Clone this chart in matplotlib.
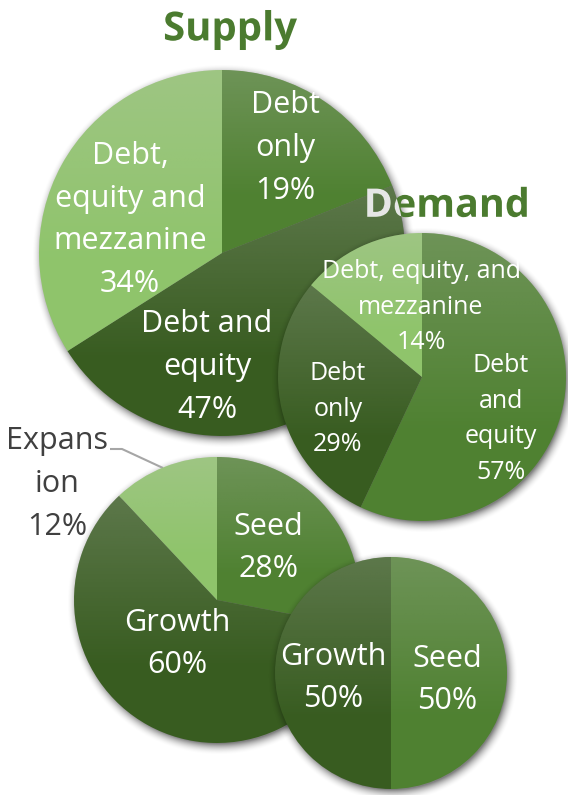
import numpy as np
import matplotlib.pyplot as plt
from matplotlib.patches import Circle, PathPatch
from matplotlib.textpath import TextPath
from matplotlib.font_manager import FontProperties
from matplotlib.transforms import Affine2D

# funding mix: supply vs demand
supply_labels = ['Debt\nonly', 'Debt and\nequity', 'Debt,\nequity and\nmezzanine']
supply_values = [19, 47, 34]
demand_labels = ['Debt\nand\nequity', 'Debt\nonly', 'Debt, equity, and\nmezzanine']
demand_values = [57, 29, 14]

# stage mix: supply vs demand
stage_supply_labels = ['Seed', 'Growth', 'Expans\nion']
stage_supply_values = [28, 60, 12]
stage_demand_labels = ['Seed', 'Growth']
stage_demand_values = [50, 50]

W, H = 568, 795
LIGHT = '#8fc46b'
MID = '#4f8131'
DARK = '#385c20'
TITLE = '#4b7b2f'
FONT = 'Open Sans'

fig = plt.figure(figsize=(W / 100, H / 100), dpi=100)
ax = fig.add_axes([0, 0, 1, 1])


def draw_pie(values, labels, colors, cx, cy, r, z, label_xy, fs, text_colors=None):
    y = H - cy
    # soft drop shadow
    pad = 18
    xs = np.arange(cx - r - pad, cx + r + pad, 1.0)
    ys = np.arange(y - r - pad, y + r + pad, 1.0)
    X, Y = np.meshgrid(xs, ys)
    d = np.hypot(X - (cx + 2), Y - (y - 3))
    sh = np.zeros(X.shape + (4,))
    sh[..., 3] = 0.5 * np.clip((r + 10 - d) / 12, 0, 1) ** 2
    ax.imshow(sh, extent=(xs[0], xs[-1], ys[0], ys[-1]), origin='lower',
              aspect='auto', interpolation='bilinear', zorder=z - 0.5)

    wedges, _ = ax.pie(values, colors=colors, startangle=90, counterclock=False,
                       center=(cx, y), radius=r, frame=True,
                       wedgeprops=dict(linewidth=0, zorder=z))

    # each slice gets a pale sheen at its top fading to the plain colour
    t = np.linspace(0, 1, 200)
    grad = np.zeros((200, 1, 4))
    grad[:, 0, :3] = 0.8
    grad[:, 0, 3] = 0.25 * np.clip(1 - t / 0.7, 0, 1)
    for w in wedges:
        b = w.get_path().get_extents()
        im = ax.imshow(grad, extent=(b.x0, b.x1, b.y0, b.y1), origin='upper',
                       aspect='auto', interpolation='bilinear', zorder=z + 0.1)
        im.set_clip_path(w)

    for i, (lab, v) in enumerate(zip(labels, values)):
        tx, ty = label_xy[i]
        c = 'white' if text_colors is None else text_colors[i]
        ax.text(tx, H - ty - 3, f'{lab}\n{v}%', ha='center', va='center', color=c,
                fontsize=fs, family=FONT, linespacing=1.55, zorder=10)
    return Circle((cx, y), r, transform=ax.transData)


supply_clip = draw_pie(supply_values, supply_labels, [MID, DARK, LIGHT],
                       222, 253, 183, 1,
                       [(285, 145), (207, 364), (130, 217)], 22)
draw_pie(demand_values, demand_labels, [MID, DARK, LIGHT],
         422, 377, 144, 3,
         [(501, 416), (338, 406), (421, 304)], 18)
draw_pie(stage_supply_values, stage_supply_labels, [MID, DARK, LIGHT],
         217, 600, 143, 1,
         [(268, 545), (177, 641), (57, 481)], 22,
         text_colors=['white', 'white', '#404040'])
draw_pie(stage_demand_values, stage_demand_labels, [MID, DARK],
         391, 673, 116, 3,
         [(447, 677), (333, 675)], 22)

# leader line for the small slice
ax.plot([110, 122, 163], [H - 449, H - 449, H - 468], color='#a6a6a6',
        lw=1.5, zorder=0.5, solid_capstyle='butt')


def title(s, x, y, size_px, color, z, clip=None):
    tp = TextPath((0, 0), s, size=size_px,
                  prop=FontProperties(family=FONT, weight='bold'))
    b = tp.get_extents()
    tr = Affine2D().translate(x - (b.x0 + b.x1) / 2, H - y - (b.y0 + b.y1) / 2)
    p = PathPatch(tr.transform_path(tp), facecolor=color, lw=0, zorder=z)
    ax.add_patch(p)
    if clip is not None:
        p.set_clip_path(clip)


title('Supply', 231, 30, 40, TITLE, 10)
title('Demand', 447, 202, 39.5, TITLE, 10)
# part of the title sitting on the supply pie shows pale
title('Demand', 447, 202, 39.5, '#e6e6e6', 11, clip=supply_clip)

ax.set_xlim(0, W)
ax.set_ylim(0, H)
ax.axis('off')
fig.savefig('out.png', dpi=100)
